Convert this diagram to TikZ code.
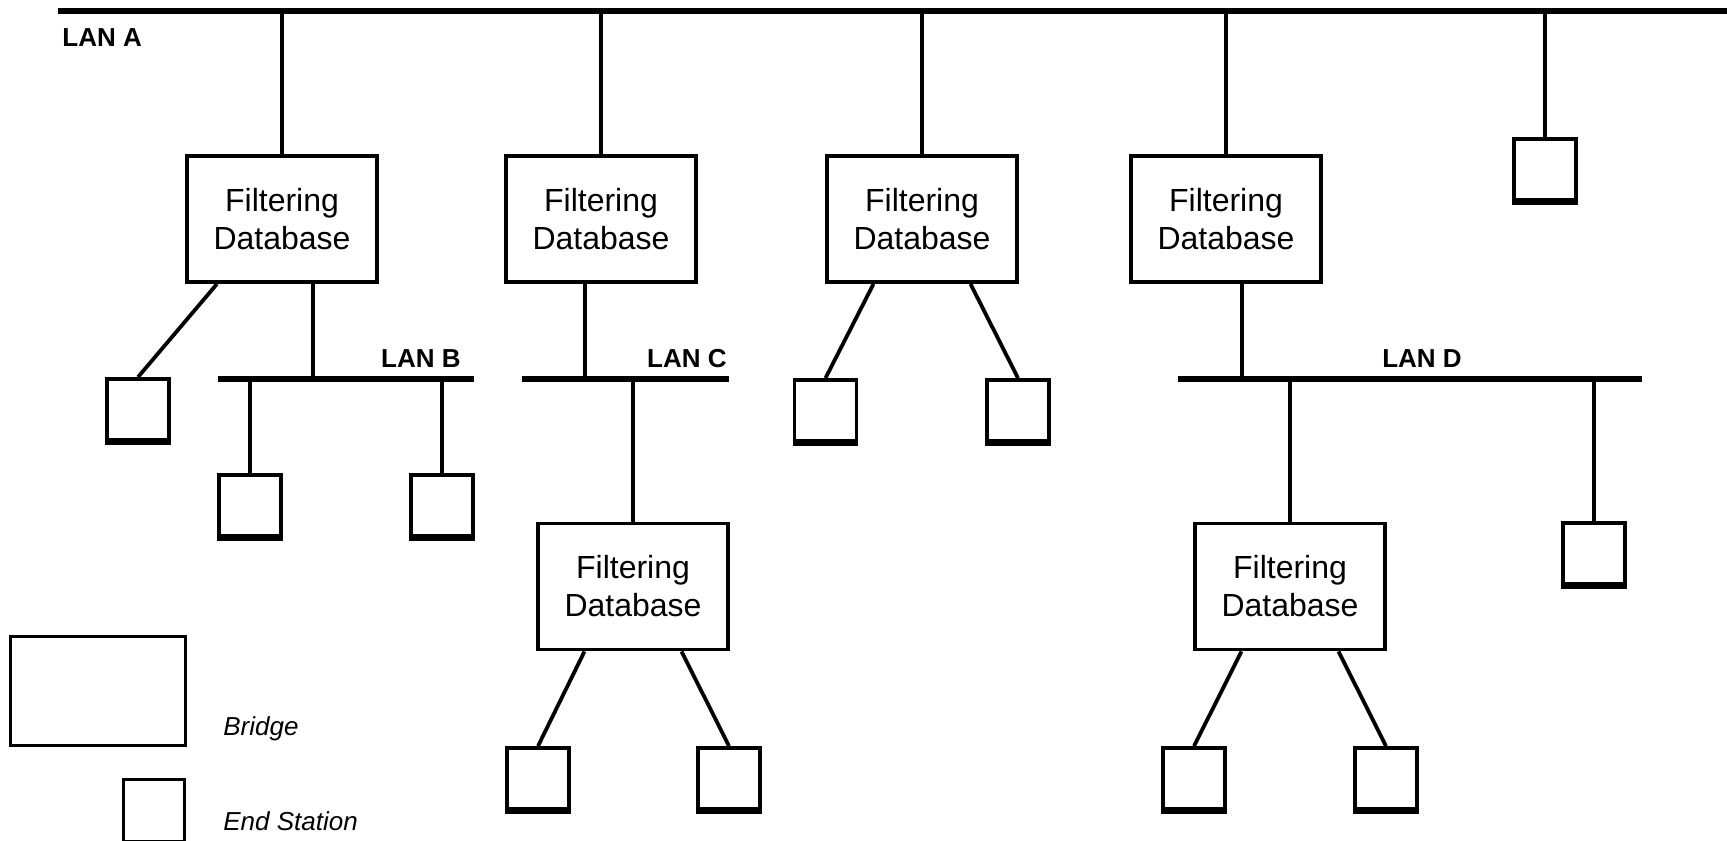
\documentclass[tikz,border=0pt]{standalone}
\usepackage{fontspec}
\setmainfont{Liberation Sans}
\usetikzlibrary{positioning,calc}

\begin{document}
\begin{tikzpicture}[x=0.5pt, y=-0.5pt,
    bridge/.style={
        rectangle,
        draw=black,
        line width=1.9pt,
        minimum width=95pt,
        minimum height=63pt,
        align=center,
        font=\fontsize{16}{19}\selectfont
    },
    station/.style={
        rectangle,
        draw=black,
        line width=1.9pt,
        minimum width=31pt,
        minimum height=30.5pt
    },
    lan/.style={line width=2.85pt},
    link/.style={line width=1.9pt},
    lanlabel/.style={inner sep=0pt, font=\fontsize{13}{15}\selectfont\bfseries},
    legendbox/.style={rectangle, draw=black, line width=1.3pt},
    legendtext/.style={inner sep=0pt, anchor=base west, font=\fontsize{13}{15}\selectfont\itshape}]

    \useasboundingbox (0,0) rectangle (1727,840);

    % LAN segments
    \coordinate (lanA) at (58,11);
    \coordinate (lanA-e) at (1727,11);
    \coordinate (lanB) at (218,379);
    \coordinate (lanB-e) at (474,379);
    \coordinate (lanC) at (522,379);
    \coordinate (lanC-e) at (729,379);
    \coordinate (lanD) at (1178,379);
    \coordinate (lanD-e) at (1642,379);
    \draw[lan] (lanA) -- (lanA-e);
    \draw[lan] (lanB) -- (lanB-e);
    \draw[lan] (lanC) -- (lanC-e);
    \draw[lan] (lanD) -- (lanD-e);

    \node[lanlabel, anchor=base west] (lblA) at (62,47) {LAN A};
    \node[lanlabel, anchor=base east] (lblB) at (461,367) {LAN B};
    \node[lanlabel, anchor=base east] (lblC) at (727,367) {LAN C};
    \node[lanlabel, anchor=base] (lblD) at (1422,367) {LAN D};

    % Bridges
    \node[bridge] (br1) at (282,219) {Filtering\\Database};
    \node[bridge] (br2) at (601,219) {Filtering\\Database};
    \node[bridge] (br3) at (922,219) {Filtering\\Database};
    \node[bridge] (br4) at (1226,219) {Filtering\\Database};
    \node[bridge] (br5) at (633,586.5) {Filtering\\Database};
    \node[bridge] (br6) at (1290,586.5) {Filtering\\Database};

    % End stations
    \node[station] (st1) at (138,409.5) {};
    \node[station] (st2) at (250,505.5) {};
    \node[station] (st3) at (442,505.5) {};
    \node[station] (st4) at (825.5,410.5) {};
    \node[station] (st5) at (1018,410.5) {};
    \node[station] (st6) at (1545,169.5) {};
    \node[station] (st7) at (538,778.5) {};
    \node[station] (st8) at (729,778.5) {};
    \node[station] (st9) at (1594,553.5) {};
    \node[station] (st10) at (1194,778.5) {};
    \node[station] (st11) at (1386,778.5) {};
    \foreach \s in {st1,st2,st3,st4,st5,st6,st7,st8,st9,st10,st11}
        \draw[line width=3pt] (\s.south west) -- (\s.south east);

    % Bridges on LAN A
    \foreach \b in {br1,br2,br3,br4}
        \draw[link] (\b |- lanA) -- (\b);
    \draw[link] (st6 |- lanA) -- (st6);

    % Bridge ports to the lower LANs
    \coordinate (tap1) at ($(br1.south)+(31,0)$);
    \coordinate (tap2) at ($(br2.south)+(-16,0)$);
    \coordinate (tap4) at ($(br4.south)+(16,0)$);
    \draw[link] (tap1) -- (tap1 |- lanB);
    \draw[link] (tap2) -- (tap2 |- lanC);
    \draw[link] (tap4) -- (tap4 |- lanD);
    \draw[link] (br5 |- lanC) -- (br5);
    \draw[link] (br6 |- lanD) -- (br6);

    % Stations on LAN B and LAN D
    \draw[link] (st2 |- lanB) -- (st2);
    \draw[link] (st3 |- lanB) -- (st3);
    \draw[link] (st9 |- lanD) -- (st9);

    % Stations attached directly to bridges
    \draw[link] ($(br1.south)+(-65,0)$) -- (st1.north);
    \draw[link] ($(br3.south)+(-48.5,0)$) -- (st4.north);
    \draw[link] ($(br3.south)+(48.5,0)$) -- (st5.north);
    \draw[link] ($(br5.south)+(-48.5,0)$) -- (st7.north);
    \draw[link] ($(br5.south)+(48.5,0)$) -- (st8.north);
    \draw[link] ($(br6.south)+(-48.5,0)$) -- (st10.north);
    \draw[link] ($(br6.south)+(48.5,0)$) -- (st11.north);

    % Legend
    \node[legendbox, minimum width=87.7pt, minimum height=54.7pt] (keybr) at (98,691) {};
    \node[legendbox, minimum width=30.7pt, minimum height=31pt] (keyst) at (154,810.3) {};
    \node[legendtext] (keybrtxt) at (223,735) {Bridge};
    \node[legendtext] (keysttxt) at (223,830) {End Station};
\end{tikzpicture}
\end{document}
